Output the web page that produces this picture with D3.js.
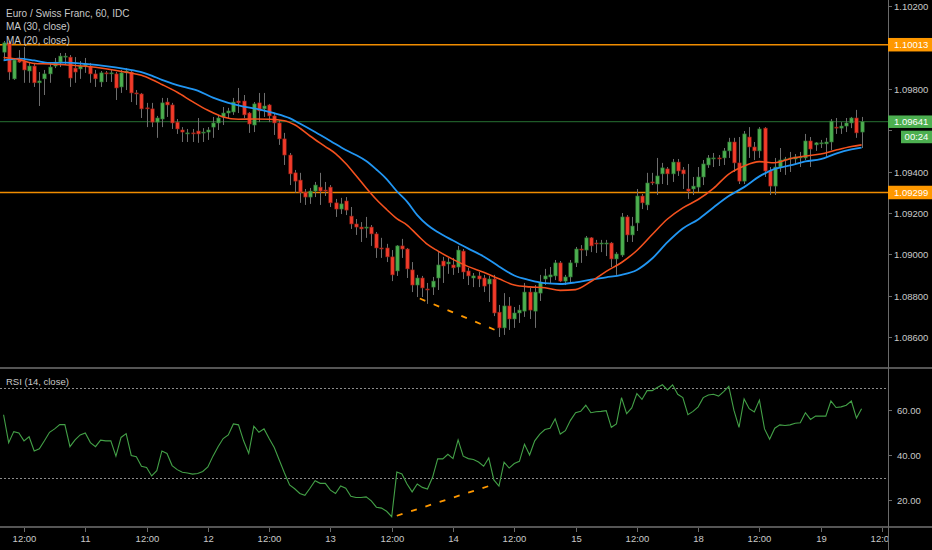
<!DOCTYPE html>
<html>
<head>
<meta charset="utf-8">
<script src="https://cdn.jsdelivr.net/npm/d3@7"></script>
<style>
  html, body { margin: 0; padding: 0; background: #000; overflow: hidden; }
  svg { display: block; font-family: "Liberation Sans", Arial, sans-serif; }
</style>
</head>
<body>
<div id="chart"></div>
<script>
// EUR/CHF hourly candles (index 0 = 10th 08:00)
const open = [
  1.09977, 1.10022, 1.09848, 1.09944, 1.09934, 1.09886, 1.09910, 1.09829, 1.09848, 1.09872,
  1.09910, 1.09929, 1.09953, 1.09953, 1.09900, 1.09896, 1.09910, 1.09910, 1.09872, 1.09833,
  1.09877, 1.09872, 1.09872, 1.09809, 1.09877, 1.09881, 1.09780, 1.09775, 1.09708, 1.09703,
  1.09639, 1.09654, 1.09736, 1.09722, 1.09639, 1.09601, 1.09582, 1.09587, 1.09596, 1.09587,
  1.09591, 1.09615, 1.09635, 1.09664, 1.09683, 1.09688, 1.09741, 1.09741, 1.09683, 1.09625,
  1.09732, 1.09703, 1.09722, 1.09669, 1.09635, 1.09558, 1.09480, 1.09394, 1.09359, 1.09301,
  1.09277, 1.09306, 1.09325, 1.09311, 1.09325, 1.09249, 1.09219, 1.09258, 1.09185, 1.09147,
  1.09132, 1.09127, 1.09132, 1.09099, 1.09031, 1.09031, 1.08988, 1.08920, 1.09041, 1.09026,
  1.08925, 1.08852, 1.08886, 1.08833, 1.08842, 1.08886, 1.08968, 1.08954, 1.08949, 1.08939,
  1.09016, 1.08920, 1.08886, 1.08896, 1.08886, 1.08857, 1.08881, 1.08721, 1.08645, 1.08751,
  1.08688, 1.08717, 1.08726, 1.08818, 1.08726, 1.08813, 1.08881, 1.08891, 1.08896, 1.08959,
  1.08871, 1.08891, 1.08959, 1.09026, 1.09021, 1.09080, 1.09055, 1.09051, 1.09051, 1.09055,
  1.08978, 1.08997, 1.09181, 1.09094, 1.09152, 1.09282, 1.09239, 1.09350, 1.09340, 1.09389,
  1.09413, 1.09389, 1.09446, 1.09408, 1.09316, 1.09316, 1.09325, 1.09374, 1.09432, 1.09461,
  1.09466, 1.09466, 1.09500, 1.09543, 1.09442, 1.09354, 1.09567, 1.09519, 1.09500, 1.09610,
  1.09403, 1.09330, 1.09422, 1.09456, 1.09461, 1.09461, 1.09466, 1.09466, 1.09548, 1.09529,
  1.09534, 1.09534, 1.09543, 1.09615, 1.09610, 1.09620, 1.09635, 1.09659, 1.09591
];
const high = [
  1.10031, 1.10031, 1.09949, 1.09987, 1.10002, 1.09929, 1.09925, 1.09881, 1.09891, 1.09929,
  1.09949, 1.09973, 1.09973, 1.09963, 1.09953, 1.09934, 1.09949, 1.09925, 1.09891, 1.09886,
  1.09886, 1.09891, 1.09881, 1.09891, 1.09900, 1.09891, 1.09794, 1.09780, 1.09732, 1.09732,
  1.09669, 1.09756, 1.09756, 1.09732, 1.09654, 1.09615, 1.09606, 1.09606, 1.09659, 1.09610,
  1.09615, 1.09664, 1.09674, 1.09712, 1.09708, 1.09756, 1.09804, 1.09770, 1.09688, 1.09736,
  1.09780, 1.09780, 1.09727, 1.09683, 1.09649, 1.09587, 1.09490, 1.09408, 1.09394, 1.09316,
  1.09321, 1.09350, 1.09394, 1.09350, 1.09335, 1.09268, 1.09273, 1.09277, 1.09229, 1.09171,
  1.09156, 1.09181, 1.09142, 1.09108, 1.09080, 1.09051, 1.09021, 1.09045, 1.09075, 1.09031,
  1.08963, 1.08901, 1.08896, 1.08862, 1.08891, 1.09011, 1.08988, 1.08983, 1.08983, 1.09041,
  1.09026, 1.08935, 1.08910, 1.08915, 1.08901, 1.08896, 1.08901, 1.08756, 1.08813, 1.08794,
  1.08746, 1.08756, 1.08862, 1.08838, 1.08852, 1.08901, 1.08930, 1.08939, 1.08973, 1.08968,
  1.08901, 1.08973, 1.09036, 1.09045, 1.09089, 1.09084, 1.09070, 1.09070, 1.09070, 1.09060,
  1.09011, 1.09200, 1.09190, 1.09181, 1.09316, 1.09292, 1.09394, 1.09394, 1.09466, 1.09442,
  1.09422, 1.09461, 1.09461, 1.09422, 1.09437, 1.09374, 1.09422, 1.09456, 1.09480, 1.09490,
  1.09480, 1.09514, 1.09563, 1.09563, 1.09567, 1.09596, 1.09615, 1.09543, 1.09615, 1.09615,
  1.09422, 1.09466, 1.09514, 1.09471, 1.09495, 1.09485, 1.09495, 1.09582, 1.09567, 1.09543,
  1.09553, 1.09563, 1.09654, 1.09659, 1.09639, 1.09659, 1.09664, 1.09698, 1.09664
];
const low = [
  1.09939, 1.09843, 1.09843, 1.09925, 1.09829, 1.09829, 1.09809, 1.09717, 1.09770, 1.09829,
  1.09900, 1.09905, 1.09915, 1.09809, 1.09829, 1.09848, 1.09877, 1.09829, 1.09809, 1.09809,
  1.09833, 1.09833, 1.09746, 1.09780, 1.09794, 1.09736, 1.09722, 1.09659, 1.09615, 1.09615,
  1.09563, 1.09615, 1.09664, 1.09606, 1.09582, 1.09543, 1.09543, 1.09543, 1.09539, 1.09543,
  1.09553, 1.09563, 1.09601, 1.09625, 1.09659, 1.09674, 1.09683, 1.09659, 1.09587, 1.09591,
  1.09639, 1.09664, 1.09639, 1.09577, 1.09529, 1.09432, 1.09335, 1.09297, 1.09249, 1.09239,
  1.09244, 1.09277, 1.09239, 1.09282, 1.09229, 1.09181, 1.09195, 1.09190, 1.09123, 1.09094,
  1.09060, 1.09080, 1.09041, 1.08983, 1.08983, 1.08963, 1.08871, 1.08896, 1.08983, 1.08886,
  1.08818, 1.08794, 1.08794, 1.08761, 1.08804, 1.08828, 1.08862, 1.08906, 1.08901, 1.08910,
  1.08881, 1.08852, 1.08842, 1.08842, 1.08818, 1.08770, 1.08702, 1.08601, 1.08611, 1.08635,
  1.08645, 1.08669, 1.08698, 1.08688, 1.08645, 1.08775, 1.08852, 1.08862, 1.08876, 1.08866,
  1.08852, 1.08866, 1.08939, 1.08959, 1.08992, 1.09011, 1.09007, 1.09011, 1.08992, 1.08939,
  1.08901, 1.08988, 1.09060, 1.09060, 1.09113, 1.09219, 1.09214, 1.09335, 1.09287, 1.09340,
  1.09335, 1.09350, 1.09379, 1.09316, 1.09268, 1.09287, 1.09301, 1.09335, 1.09418, 1.09422,
  1.09427, 1.09432, 1.09466, 1.09398, 1.09340, 1.09340, 1.09466, 1.09456, 1.09466, 1.09374,
  1.09287, 1.09287, 1.09398, 1.09384, 1.09398, 1.09432, 1.09422, 1.09456, 1.09422, 1.09500,
  1.09514, 1.09471, 1.09504, 1.09582, 1.09582, 1.09591, 1.09610, 1.09563, 1.09514
];
const close = [
  1.10022, 1.09881, 1.09939, 1.09929, 1.09891, 1.09910, 1.09829, 1.09838, 1.09872, 1.09905,
  1.09929, 1.09958, 1.09958, 1.09852, 1.09881, 1.09910, 1.09920, 1.09872, 1.09848, 1.09877,
  1.09872, 1.09877, 1.09804, 1.09877, 1.09886, 1.09780, 1.09775, 1.09703, 1.09703, 1.09639,
  1.09659, 1.09732, 1.09722, 1.09635, 1.09606, 1.09591, 1.09587, 1.09585, 1.09582, 1.09591,
  1.09601, 1.09635, 1.09659, 1.09683, 1.09693, 1.09736, 1.09732, 1.09674, 1.09630, 1.09727,
  1.09693, 1.09717, 1.09669, 1.09635, 1.09558, 1.09480, 1.09389, 1.09354, 1.09301, 1.09277,
  1.09306, 1.09335, 1.09306, 1.09306, 1.09249, 1.09219, 1.09244, 1.09214, 1.09147, 1.09132,
  1.09123, 1.09132, 1.09099, 1.09031, 1.09026, 1.08988, 1.08901, 1.09041, 1.09026, 1.08930,
  1.08852, 1.08886, 1.08838, 1.08828, 1.08871, 1.08949, 1.08944, 1.08963, 1.08935, 1.09021,
  1.08915, 1.08896, 1.08896, 1.08881, 1.08847, 1.08881, 1.08717, 1.08645, 1.08751, 1.08688,
  1.08717, 1.08731, 1.08818, 1.08731, 1.08818, 1.08866, 1.08896, 1.08901, 1.08959, 1.08871,
  1.08891, 1.08959, 1.09026, 1.09021, 1.09080, 1.09041, 1.09051, 1.09055, 1.09055, 1.08978,
  1.09002, 1.09181, 1.09094, 1.09137, 1.09282, 1.09249, 1.09345, 1.09345, 1.09379, 1.09418,
  1.09389, 1.09446, 1.09403, 1.09389, 1.09306, 1.09330, 1.09374, 1.09437, 1.09466, 1.09466,
  1.09461, 1.09500, 1.09543, 1.09442, 1.09354, 1.09582, 1.09519, 1.09500, 1.09606, 1.09403,
  1.09330, 1.09422, 1.09456, 1.09461, 1.09466, 1.09471, 1.09471, 1.09548, 1.09509, 1.09539,
  1.09539, 1.09543, 1.09644, 1.09610, 1.09620, 1.09635, 1.09659, 1.09587, 1.09641
];

// moving averages: [candle index, price]
const ma30 = [
  [0, 1.09937], [3, 1.09946], [6, 1.09937], [9, 1.09925], [12, 1.09926], [16, 1.09920],
  [20, 1.09910], [24, 1.09895], [27, 1.09881], [29, 1.09864], [31, 1.09843], [34, 1.09818],
  [38, 1.09791], [41, 1.09757], [44, 1.09732], [47, 1.09714], [50, 1.09701], [53, 1.09682],
  [56, 1.09658], [58, 1.09632], [61, 1.09591], [64, 1.09548], [67, 1.09504], [69, 1.09480],
  [71, 1.09451], [73, 1.09410], [75, 1.09364], [77, 1.09305], [79, 1.09255], [81, 1.09190],
  [83, 1.09142], [85, 1.09108], [88, 1.09067], [91, 1.09028], [94, 1.08990], [97, 1.08942],
  [100, 1.08898], [103, 1.08876], [106, 1.08861], [109, 1.08857], [112, 1.08865], [115, 1.08878],
  [118, 1.08889], [121, 1.08901], [124, 1.08925], [127, 1.08980], [130, 1.09059], [133, 1.09125],
  [136, 1.09169], [139, 1.09227], [142, 1.09282], [145, 1.09325], [148, 1.09377], [151, 1.09413],
  [154, 1.09430], [157, 1.09449], [160, 1.09460], [163, 1.09487], [166, 1.09507], [168, 1.09516]
];
const ma20 = [
  [0, 1.09951], [3, 1.09942], [6, 1.09922], [9, 1.09920], [12, 1.09916], [16, 1.09909],
  [20, 1.09897], [24, 1.09880], [27, 1.09865], [29, 1.09845], [31, 1.09821], [34, 1.09783],
  [37, 1.09738], [40, 1.09696], [43, 1.09664], [46, 1.09653], [49, 1.09654], [52, 1.09653],
  [55, 1.09646], [57, 1.09626], [60, 1.09572], [63, 1.09521], [65, 1.09487], [67, 1.09439],
  [69, 1.09381], [71, 1.09321], [73, 1.09265], [75, 1.09217], [77, 1.09173], [79, 1.09142],
  [81, 1.09094], [83, 1.09048], [85, 1.09017], [88, 1.08976], [91, 1.08941], [94, 1.08914],
  [97, 1.08882], [100, 1.08852], [103, 1.08843], [106, 1.08839], [109, 1.08826], [112, 1.08830],
  [115, 1.08869], [118, 1.08918], [121, 1.08961], [124, 1.09019], [127, 1.09096], [130, 1.09171],
  [133, 1.09225], [136, 1.09265], [139, 1.09319], [142, 1.09388], [145, 1.09427], [148, 1.09448],
  [151, 1.09443], [154, 1.09462], [157, 1.09475], [160, 1.09485], [163, 1.09504], [166, 1.09521],
  [168, 1.09529]
];

// RSI(14) per candle
const rsi = [
  57.9, 45.5, 50.4, 49.8, 46.3, 48.1, 41.8, 42.8, 46.3, 50.1,
  51.6, 53.5, 53.5, 43.7, 46.7, 48.9, 49.8, 45.5, 43.7, 46.6,
  46.3, 46.3, 39.5, 47.8, 49.5, 39.8, 39.2, 35.0, 34.5, 30.7,
  33.0, 41.8, 40.7, 35.3, 33.5, 32.3, 32.0, 31.5, 31.8, 32.7,
  34.7, 39.5, 43.7, 47.3, 48.9, 53.8, 53.4, 46.3, 40.7, 52.8,
  50.1, 51.6, 47.3, 43.3, 37.7, 32.0, 26.7, 25.0, 22.9, 22.1,
  25.2, 28.6, 27.4, 27.4, 24.4, 22.9, 26.2, 25.2, 21.7, 21.1,
  21.1, 21.4, 19.6, 16.8, 16.4, 15.0, 12.6, 32.4, 31.6, 27.1,
  23.6, 27.1, 25.6, 24.9, 30.1, 38.3, 38.3, 40.3, 38.4, 46.7,
  39.5, 38.4, 38.0, 36.9, 35.0, 38.7, 28.9, 26.2, 36.8, 34.2,
  36.2, 37.2, 44.8, 40.0, 46.3, 49.3, 51.3, 51.9, 56.1, 49.3,
  50.8, 55.4, 58.8, 59.4, 62.1, 58.8, 59.2, 59.4, 59.7, 52.3,
  53.8, 65.5, 58.4, 60.9, 67.3, 64.7, 68.6, 68.6, 70.0, 71.2,
  68.9, 71.2, 67.0, 65.5, 57.9, 59.4, 61.4, 65.5, 66.7, 67.0,
  66.2, 68.2, 70.5, 59.9, 52.3, 64.9, 60.6, 59.1, 64.4, 51.6,
  47.0, 51.9, 53.4, 53.1, 53.4, 54.1, 54.3, 58.8, 55.8, 57.3,
  57.3, 57.3, 64.0, 61.1, 61.4, 62.1, 64.0, 56.4, 60.6
];

// drawn annotations
const priceLevels = [1.10013, 1.09299];
const lastPrice = 1.09641;
const countdown = "00:24";
const priceTrend = [[81.5, 1.08787], [97.2, 1.08625]];
const rsiTrend = [[77, 13.0], [96.5, 27.3]];

// axes
const priceTicks = [1.086, 1.088, 1.090, 1.092, 1.094, 1.096, 1.098, 1.100, 1.102];
const rsiTicks = [20, 40, 60];
const rsiBands = [70, 30];
const timeTickIdx = [4, 16, 28, 40, 52, 64, 76, 88, 100, 112, 124, 136, 148, 160, 172];
const timeTickLabels = ["12:00", "11", "12:00", "12", "12:00", "13", "12:00", "14", "12:00", "15", "12:00", "18", "12:00", "19", "12:00"];

(function () {
    const width = 932;
    const height = 550;
    const axisX = 888;
    const mainBottom = 368;
    const rsiTop = 370;
    const rsiBottom = 527;
    const textColor = "#c9c9c9";

    const svg = d3.select("#chart")
        .append("svg")
        .attr("width", width)
        .attr("height", height);

    svg.append("rect").attr("width", width).attr("height", height).attr("fill", "#000");

    const defs = svg.append("defs");
    defs.append("clipPath").attr("id", "clipMain")
        .append("rect").attr("x", 0).attr("y", 0).attr("width", axisX).attr("height", mainBottom);
    defs.append("clipPath").attr("id", "clipRsi")
        .append("rect").attr("x", 0).attr("y", rsiTop).attr("width", axisX).attr("height", rsiBottom - rsiTop);
    defs.append("clipPath").attr("id", "clipTime")
        .append("rect").attr("x", 0).attr("y", rsiBottom).attr("width", axisX).attr("height", height - rsiBottom);

    // scales
    const x = d3.scaleLinear().domain([0, 172]).range([3.57, 882]);
    const y = d3.scaleLinear().domain([1.086, 1.102]).range([337.2, 6]);
    const yr = d3.scaleLinear().domain([30, 70]).range([477.5, 387.5]);

    const candles = open.map((o, i) => ({ i: i, o: o, h: high[i], l: low[i], c: close[i] }));

    const main = svg.append("g").attr("clip-path", "url(#clipMain)");

    // horizontal levels
    main.selectAll(".level")
        .data(priceLevels)
        .enter()
        .append("line")
        .attr("class", "level")
        .attr("x1", 0).attr("x2", axisX)
        .attr("y1", d => y(d))
        .attr("y2", d => y(d))
        .style("stroke", "#f08c00")
        .style("stroke-width", 1.5);

    main.append("line")
        .attr("x1", 0).attr("x2", axisX)
        .attr("y1", y(lastPrice))
        .attr("y2", y(lastPrice))
        .style("stroke", "#1f5a28")
        .style("stroke-width", 1.2);

    // candles
    const candle = main.append("g")
        .selectAll("g")
        .data(candles)
        .enter()
        .append("g");

    candle.append("line")
        .attr("x1", d => Math.round(x(d.i)) + 0.5)
        .attr("x2", d => Math.round(x(d.i)) + 0.5)
        .attr("y1", d => y(Math.max(d.h, d.o, d.c)))
        .attr("y2", d => y(Math.min(d.l, d.o, d.c)))
        .style("stroke", "#6e6e6e")
        .style("stroke-width", 1);

    candle.append("rect")
        .attr("x", d => Math.round(x(d.i)) - 1.2)
        .attr("width", 3.4)
        .attr("y", d => y(Math.max(d.o, d.c)))
        .attr("height", d => Math.max(1, Math.abs(y(d.o) - y(d.c))))
        .style("fill", d => d.c >= d.o ? "#4caf50" : "#f23b2a")
        .style("stroke", d => d.c >= d.o ? "#2b6e2f" : "#8e1e14")
        .style("stroke-width", 0.6);

    // moving averages
    const maLine = d3.line()
        .x(d => x(d[0]))
        .y(d => y(d[1]))
        .curve(d3.curveMonotoneX);

    main.append("path")
        .datum(ma30)
        .attr("d", maLine)
        .style("fill", "none")
        .style("stroke", "#2196f3")
        .style("stroke-width", 1.8);

    main.append("path")
        .datum(ma20)
        .attr("d", maLine)
        .style("fill", "none")
        .style("stroke", "#f4511e")
        .style("stroke-width", 1.6);

    // divergence trend line on price
    main.append("line")
        .attr("x1", x(priceTrend[0][0])).attr("y1", y(priceTrend[0][1]))
        .attr("x2", x(priceTrend[1][0])).attr("y2", y(priceTrend[1][1]))
        .style("stroke", "#ff9800")
        .style("stroke-width", 1.8)
        .style("stroke-dasharray", "6,9");

    // RSI panel
    const rsiG = svg.append("g").attr("clip-path", "url(#clipRsi)");

    rsiG.selectAll(".band")
        .data(rsiBands)
        .enter()
        .append("line")
        .attr("class", "band")
        .attr("x1", 0).attr("x2", axisX)
        .attr("y1", d => Math.round(yr(d)) + 0.5)
        .attr("y2", d => Math.round(yr(d)) + 0.5)
        .style("stroke", "#8c8c8c")
        .style("stroke-width", 1)
        .style("stroke-dasharray", "2,2");

    rsiG.append("path")
        .datum(rsi)
        .attr("d", d3.line().x((d, i) => x(i)).y(d => yr(d)))
        .style("fill", "none")
        .style("stroke", "#43a047")
        .style("stroke-width", 1.1);

    rsiG.append("line")
        .attr("x1", x(rsiTrend[0][0])).attr("y1", yr(rsiTrend[0][1]))
        .attr("x2", x(rsiTrend[1][0])).attr("y2", yr(rsiTrend[1][1]))
        .style("stroke", "#ff9800")
        .style("stroke-width", 1.8)
        .style("stroke-dasharray", "6,9");

    // panel separators and price axis line
    [mainBottom, rsiBottom].forEach(v => {
        svg.append("line")
            .attr("x1", 0).attr("x2", width)
            .attr("y1", v).attr("y2", v)
            .style("stroke", "#555")
            .style("stroke-width", 2);
    });

    svg.append("line")
        .attr("x1", axisX + 0.5).attr("x2", axisX + 0.5)
        .attr("y1", 0).attr("y2", height)
        .style("stroke", "#6a6a6a")
        .style("stroke-width", 1);

    // positions taken by the price tags on the axis
    const tagY = priceLevels.concat([lastPrice]).map(v => y(v));
    tagY.push(y(lastPrice) + 15);

    // price axis
    const pAxis = svg.append("g");
    priceTicks.forEach(v => {
        const yy = Math.round(y(v)) + 0.5;
        pAxis.append("line")
            .attr("x1", axisX).attr("x2", axisX + 4)
            .attr("y1", yy).attr("y2", yy)
            .style("stroke", "#6a6a6a");
        if (tagY.some(t => Math.abs(t - yy) < 11)) return;
        pAxis.append("text")
            .attr("x", axisX + 6)
            .attr("y", yy)
            .attr("dy", "0.35em")
            .style("font-size", "9.5px")
            .style("fill", textColor)
            .text(v.toFixed(5));
    });

    // rsi axis
    rsiTicks.forEach(v => {
        const yy = Math.round(yr(v)) + 0.5;
        pAxis.append("line")
            .attr("x1", axisX).attr("x2", axisX + 4)
            .attr("y1", yy).attr("y2", yy)
            .style("stroke", "#6a6a6a");
        pAxis.append("text")
            .attr("x", axisX + 9)
            .attr("y", yy)
            .attr("dy", "0.35em")
            .style("font-size", "9.5px")
            .style("fill", textColor)
            .text(v.toFixed(2));
    });

    // price labels on the axis
    function priceTag(v, color, h) {
        const yy = y(v);
        svg.append("rect")
            .attr("x", axisX)
            .attr("y", yy - h / 2)
            .attr("width", width - axisX)
            .attr("height", h)
            .style("fill", color);
        svg.append("text")
            .attr("x", axisX + 6)
            .attr("y", yy)
            .attr("dy", "0.35em")
            .style("font-size", "9.5px")
            .style("fill", "#fff")
            .text(v.toFixed(5));
    }
    priceLevels.forEach(v => priceTag(v, "#ff9800", 13.5));
    priceTag(lastPrice, "#4caf50", 12.5);

    const cdY = y(lastPrice) + 9;
    svg.append("rect")
        .attr("x", 901).attr("y", cdY)
        .attr("width", width - 901).attr("height", 12.5)
        .style("fill", "#4caf50");
    svg.append("text")
        .attr("x", 916.5).attr("y", cdY + 6.25)
        .attr("dy", "0.35em")
        .attr("text-anchor", "middle")
        .style("font-size", "9.5px")
        .style("fill", "#fff")
        .text(countdown);

    // time axis
    const tAxis = svg.append("g").attr("clip-path", "url(#clipTime)");
    timeTickIdx.forEach((t, k) => {
        const xx = Math.round(x(t)) + 0.5;
        tAxis.append("line")
            .attr("x1", xx).attr("x2", xx)
            .attr("y1", rsiBottom + 1).attr("y2", rsiBottom + 5)
            .style("stroke", "#6a6a6a");
        tAxis.append("text")
            .attr("x", xx)
            .attr("y", 539)
            .attr("dy", "0.35em")
            .attr("text-anchor", "middle")
            .style("font-size", "9.5px")
            .style("fill", textColor)
            .text(timeTickLabels[k]);
    });

    // legends
    const legend = ["Euro / Swiss Franc, 60, IDC", "MA (30, close)", "MA (20, close)"];
    svg.append("g")
        .selectAll("text")
        .data(legend)
        .enter()
        .append("text")
        .attr("x", 6)
        .attr("y", (d, i) => 13.3 + i * 13.4)
        .attr("dy", "0.35em")
        .style("font-size", "10px")
        .style("fill", textColor)
        .text(d => d);

    svg.append("text")
        .attr("x", 6)
        .attr("y", 382)
        .attr("dy", "0.35em")
        .style("font-size", "9.5px")
        .style("fill", textColor)
        .text("RSI (14, close)");
})();
</script>
</body>
</html>
